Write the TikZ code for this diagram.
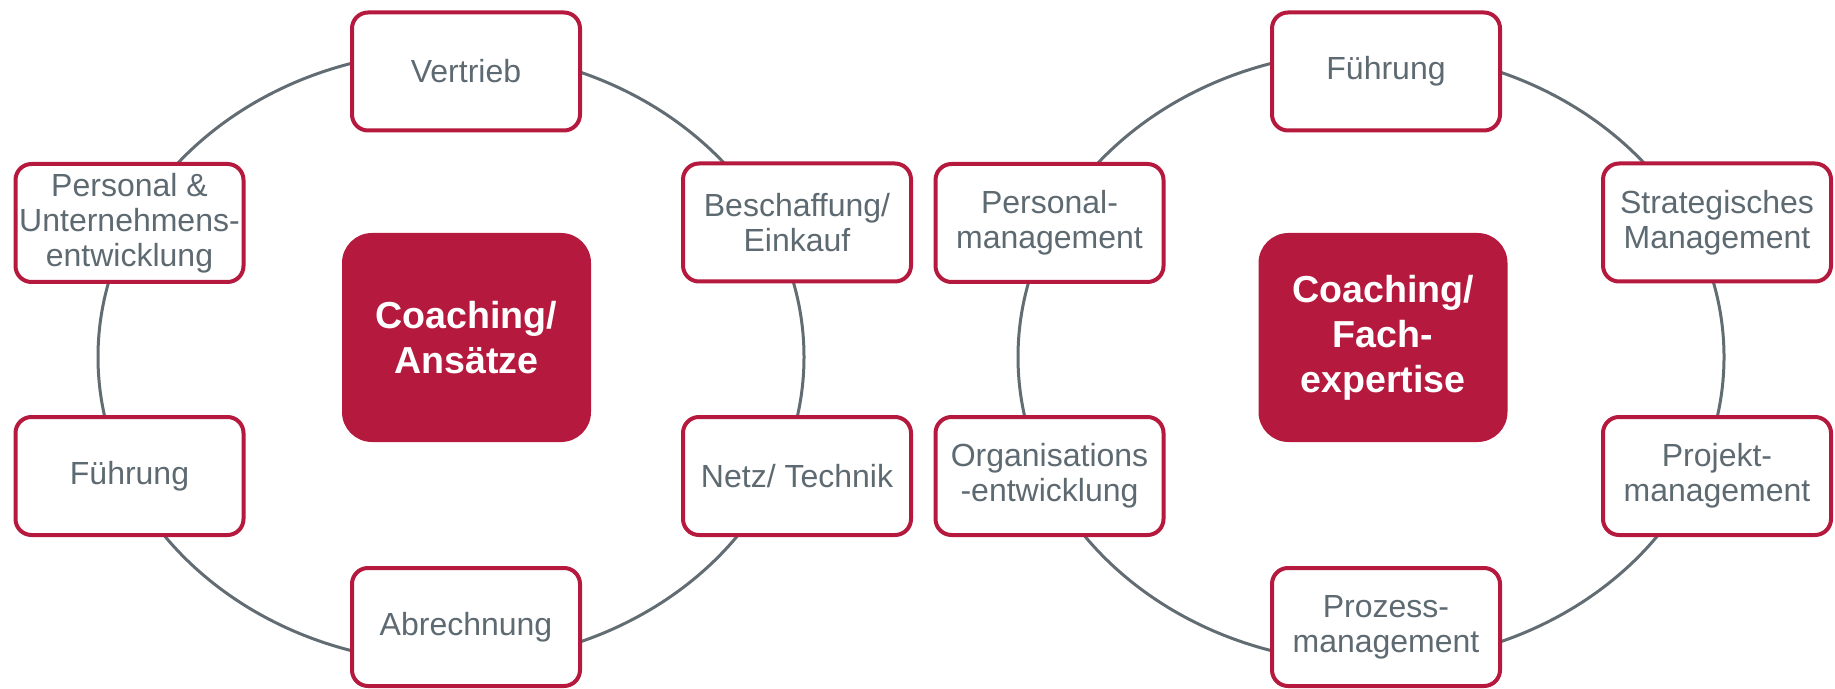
\documentclass[tikz,border=0pt]{standalone}
\usepackage{fontspec}
\setmainfont{Liberation Sans}
\definecolor{cred}{RGB}{181,25,61}
\definecolor{ctext}{RGB}{94,106,113}
\definecolor{cring}{RGB}{98,108,115}
\begin{document}
\begin{tikzpicture}[x=0.5pt,y=-0.5pt,
  topic/.style={draw=cred, line width=2pt, fill=white, rounded corners=8pt,
    minimum width=114pt, minimum height=59pt, inner sep=1pt, align=center,
    text=ctext, font=\fontsize{16}{17.5}\selectfont},
  core/.style={fill=cred, rounded corners=15pt, minimum width=124.5pt, minimum height=104.5pt,
    align=center, text=white, font=\fontsize{18.8}{22.5}\selectfont\bfseries},
  ring/.style={draw=cring, line width=1.5pt}]
\useasboundingbox (0,0) rectangle (1835,689);
% rings
\draw[ring] (451,357) ellipse [x radius=353, y radius=306];
\draw[ring] (1371,357) ellipse [x radius=353, y radius=306];
% left group
\node[core] (c1) at (466.5,337.5) {Coaching/\\Ansätze};
\node[topic] (vertrieb) at (466,71.5) {Vertrieb};
\node[topic] (personal) at (129.5,223) {Personal \&\\Unternehmens-\\entwicklung};
\node[topic] (beschaffung) at (797,222.5) {Beschaffung/\\Einkauf};
\node[topic] (fuehrung1) at (129.5,476) {Führung};
\node[topic] (netz) at (797,476) {Netz/ Technik};
\node[topic] (abrechnung) at (466,627) {Abrechnung};
% right group
\node[core] (c2) at (1383,337.5) {Coaching/\\Fach-\\expertise};
\node[topic] (fuehrung2) at (1386,71.5) {Führung};
\node[topic] (persmgmt) at (1049.5,223) {Personal-\\management};
\node[topic] (strat) at (1717,222.5) {Strategisches\\Management};
\node[topic] (orga) at (1049.5,476) {Organisations\\-entwicklung};
\node[topic] (projekt) at (1717,476) {Projekt-\\management};
\node[topic] (prozess) at (1386,627) {Prozess-\\management};
\end{tikzpicture}
\end{document}
